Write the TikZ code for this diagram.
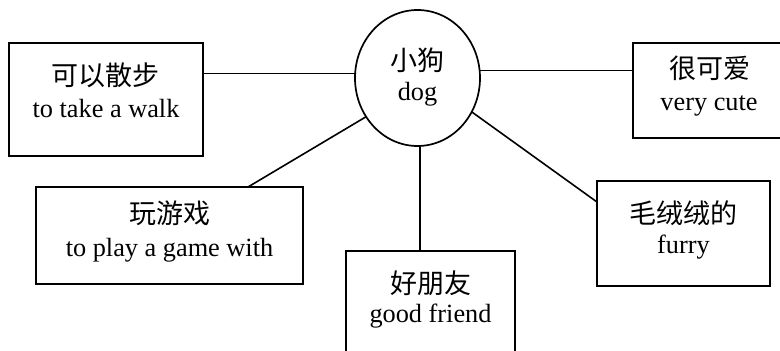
\documentclass[tikz,border=0pt]{standalone}
\usepackage{fontspec}
\setmainfont{Liberation Serif}
\newfontfamily\cjk{Noto Sans CJK SC}
\usetikzlibrary{shapes.geometric,calc}
\tikzset{
  box/.style={draw, line width=1.7pt, rectangle, inner sep=0pt, outer sep=0pt},
  hub/.style={draw, line width=1.7pt, ellipse, inner sep=0pt, outer sep=0pt, minimum width=125pt, minimum height=136pt},
  zh/.style={anchor=base, inner sep=0pt, font=\cjk\fontsize{27}{30}\selectfont},
  en/.style={anchor=base, inner sep=0pt, font=\fontsize{26.3}{30}\selectfont},
  link/.style={line width=1.6pt}
}
\begin{document}
\begin{tikzpicture}[x=1pt,y=-1pt]
\useasboundingbox (0,0) rectangle (780,351);
\node[box, minimum width=194pt, minimum height=113pt] (walk) at (106,99.5) {};
\node[box, minimum width=155pt, minimum height=95pt] (cute) at (710.5,90.5) {};
\node[box, minimum width=267pt, minimum height=97pt] (game) at (169.5,235.5) {};
\node[box, minimum width=169pt, minimum height=109pt] (friend) at (430.5,305.5) {};
\node[box, minimum width=173pt, minimum height=105pt] (furry) at (683.5,233.5) {};
\node[hub] (dog) at (417.5,78) {};

\node[zh] (walkzh) at (106,85) {可以散步};
\node[en] (walken) at (106,117) {to take a walk};
\node[zh] (dogzh) at (417.5,70) {小狗};
\node[en] (dogen) at (417.5,100) {dog};
\node[zh] (cutezh) at (710,78) {很可爱};
\node[en] (cuteen) at (709,110) {very cute};
\node[zh] (gamezh) at (169.5,223) {玩游戏};
\node[en] (gameen) at (169.5,256) {to play a game with};
\node[zh] (friendzh) at (430.5,293) {好朋友};
\node[en] (frienden) at (430.5,322) {good friend};
\node[zh] (furryzh) at (683.5,223) {毛绒绒的};
\node[en] (furryen) at (683.5,253) {furry};

\draw[link] (dog.176) -- (walk.east |- dog.176);
\draw[link] (dog.7) -- (cute.west |- dog.7);
\draw[link] (dog.217) -- ($(game.north west)!0.794!(game.north east)$);
\draw[link] (dog.272) -- (dog.272 |- friend.north);
\draw[link] (dog.328) -- ($(furry.north west)!0.2!(furry.south west)$);
\end{tikzpicture}
\end{document}
